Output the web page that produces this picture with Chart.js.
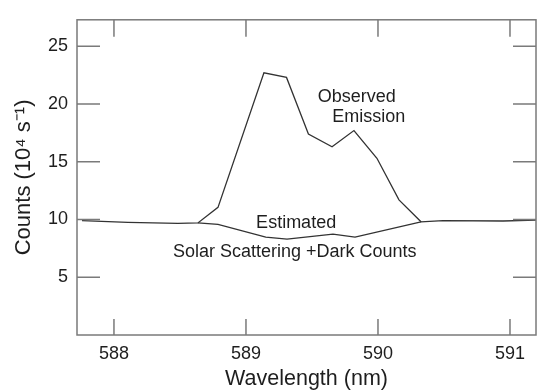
<!DOCTYPE html>
<html lang="en">
<head>
  <meta charset="UTF-8" />
  <title>Observed Emission vs Estimated Background</title>
  <script src="https://cdn.jsdelivr.net/npm/chart.js"></script>
  <style>
    body { margin:0; background:#fff; }
    #wrap { width:537px; height:391px; }
  </style>
</head>
<body>
  <div id="wrap"><canvas id="chart"></canvas></div>
  <script>
    // values
    const obsWavelength = [587.758, 588.106, 588.485, 588.636, 588.788, 589.136, 589.307, 589.473, 589.652, 589.818, 589.992, 590.159, 590.326, 590.492, 590.947, 591.197];
    const obsCounts     = [9.9, 9.75, 9.66, 9.7, 11.05, 22.7, 22.3, 17.4, 16.3, 17.7, 15.3, 11.7, 9.8, 9.9, 9.87, 9.95];
    const estWavelength = [588.636, 588.788, 589.15, 589.311, 589.659, 589.826, 590.326];
    const estCounts     = [9.7, 9.58, 8.47, 8.3, 8.73, 8.47, 9.8];
    const xTicks = [588, 589, 590, 591];
    const yTicks = [5, 10, 15, 20, 25];

    const toPts = (xs, ys) => xs.map((x, i) => ({x: x, y: ys[i]}));
    const axisColor = '#7a7a7a';
    const textColor = '#1e1e1e';

    // box + inward ticks on all four sides
    const frame = {
      id: 'frame',
      afterDatasetsDraw(chart) {
        const {ctx, chartArea: a, scales: {x, y}} = chart;
        ctx.save();
        ctx.strokeStyle = axisColor;
        ctx.lineWidth = 1.5;
        ctx.strokeRect(a.left, a.top, a.right - a.left, a.bottom - a.top);
        ctx.beginPath();
        xTicks.forEach(v => {
          const px = x.getPixelForValue(v);
          ctx.moveTo(px, a.bottom); ctx.lineTo(px, a.bottom - 16);
          ctx.moveTo(px, a.top);    ctx.lineTo(px, a.top + 17);
        });
        yTicks.forEach(v => {
          const py = y.getPixelForValue(v);
          ctx.moveTo(a.left, py);  ctx.lineTo(a.left + 23, py);
          ctx.moveTo(a.right, py); ctx.lineTo(a.right - 23, py);
        });
        ctx.stroke();

        // curve labels, placed in data coordinates
        ctx.fillStyle = textColor;
        ctx.font = '18px "Liberation Sans", Arial, sans-serif';
        ctx.textAlign = 'center';
        ctx.textBaseline = 'middle';
        const put = (t, wx, cy) => ctx.fillText(t, x.getPixelForValue(wx), y.getPixelForValue(cy));
        put('Observed', 589.84, 20.6);
        put('Emission', 589.93, 18.9);
        put('Estimated', 589.38, 9.66);
        put('Solar Scattering +Dark Counts', 589.37, 7.2);
        ctx.restore();
      }
    };

    new Chart(document.getElementById('chart'), {
      type: 'scatter',
      data: {
        datasets: [
          {label: 'Observed Emission', data: toPts(obsWavelength, obsCounts), showLine: true,
           borderColor: '#333', borderWidth: 1.3, pointRadius: 0, tension: 0},
          {label: 'Estimated Solar Scattering + Dark Counts', data: toPts(estWavelength, estCounts), showLine: true,
           borderColor: '#333', borderWidth: 1.3, pointRadius: 0, tension: 0}
        ]
      },
      options: {
        responsive: true, maintainAspectRatio: false, animation: false,
        layout: {padding: {top: 14, right: 1, left: 0, bottom: 0}},
        plugins: {legend: {display: false}, tooltip: {enabled: false}},
        scales: {
          x: {
            type: 'linear', min: 587.72, max: 591.197,
            afterBuildTicks: s => { s.ticks = xTicks.map(v => ({value: v})); },
            afterFit: s => { s.height = 56; },
            grid: {display: false, drawTicks: false},
            border: {display: false},
            ticks: {color: textColor, padding: 8, maxRotation: 0,
                    font: {family: '"Liberation Sans", Arial, sans-serif', size: 18}},
            title: {display: true, text: 'Wavelength (nm)', color: textColor,
                    padding: {top: 0, bottom: 1},
                    font: {family: '"Liberation Sans", Arial, sans-serif', size: 21.5, lineHeight: 1}}
          },
          y: {
            min: 0, max: 27.29,
            afterBuildTicks: s => { s.ticks = yTicks.map(v => ({value: v})); },
            afterFit: s => { s.width = 77; },
            grid: {display: false, drawTicks: false},
            border: {display: false},
            ticks: {color: textColor, padding: 9,
                    font: {family: '"Liberation Sans", Arial, sans-serif', size: 18}},
            title: {display: true, text: 'Counts (10⁴ s⁻¹)', color: textColor,
                    padding: {top: 13, bottom: 0},
                    font: {family: '"Liberation Sans", Arial, sans-serif', size: 22, lineHeight: 1}}
          }
        }
      },
      plugins: [frame]
    });
  </script>
</body>
</html>
